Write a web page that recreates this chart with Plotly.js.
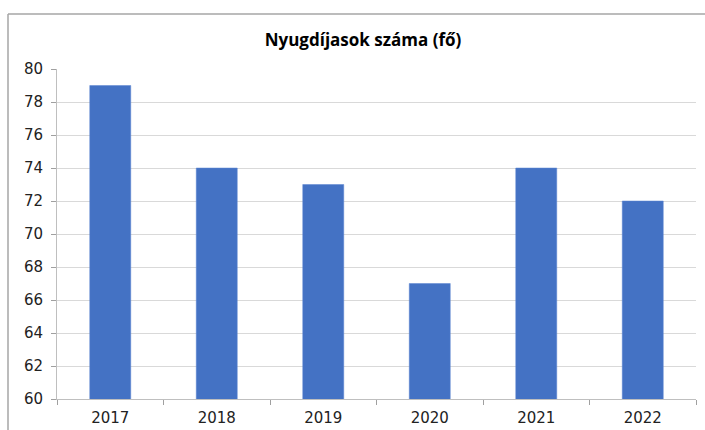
<!DOCTYPE html>
<html><head><meta charset="utf-8">
<script src="https://cdn.plot.ly/plotly-3.0.1.min.js"></script>
<style>html,body{margin:0;padding:0;background:#fff}#chart{width:705px;height:430px}</style>
</head><body><div id="chart"></div>
<script>
const years = ['2017','2018','2019','2020','2021','2022'];
const pensioners = [79, 74, 73, 67, 74, 72];
const yTicks = [60,62,64,66,68,70,72,74,76,78,80];

const W=705,H=430,L=57,R=9,T=69,B=31;
const pw=W-L-R, ph=H-T-B;
const px = x => (x-L)/pw;
const py = y => (H-B-y)/ph;

Plotly.newPlot('chart', [{
  type:'bar', x: years, y: pensioners,
  marker:{color:'#4472C4', line:{color:'#5a85d0', width:0.5}},
  hoverinfo:'x+y'
}], {
  width:W, height:H,
  margin:{l:L, r:R, t:T, b:B, pad:0},
  paper_bgcolor:'#fff', plot_bgcolor:'#fff',
  bargap:0.615,
  showlegend:false,
  title:{text:'<b>Nyugdíjasok száma (fő)</b>', xref:'container', x:363/W, xanchor:'center', yref:'container', y:(H-40)/H, yanchor:'middle',
    font:{family:'Open Sans, Liberation Sans, sans-serif', size:17, color:'#000'}},
  xaxis:{type:'category', tickson:'boundaries', ticks:'outside', ticklen:5, tickcolor:'#a0a0a0',
    showline:true, linecolor:'#bfbfbf', linewidth:1, showgrid:false, ticklabelstandoff:5,
    tickfont:{family:'DejaVu Sans, sans-serif', size:15, color:'#222'}},
  yaxis:{range:[60,80], tickvals:yTicks, ticktext:yTicks.map(String), ticks:'outside', ticklen:5, tickcolor:'#a0a0a0',
    showline:true, linecolor:'#bfbfbf', linewidth:1, showgrid:true, gridcolor:'#d9d9d9', gridwidth:1,
    zeroline:false, ticklabelstandoff:5, tickfont:{family:'DejaVu Sans, sans-serif', size:15, color:'#222'}},
  shapes:[
    {type:'line', xref:'paper', yref:'paper', x0:px(8), x1:px(706), y0:py(14), y1:py(14), line:{color:'#a6a6a6', width:1.5}},
    {type:'line', xref:'paper', yref:'paper', x0:px(8), x1:px(8), y0:py(14), y1:py(431), line:{color:'#a6a6a6', width:1.5}}
  ]
}, {displayModeBar:false, staticPlot:true});
</script></body></html>
